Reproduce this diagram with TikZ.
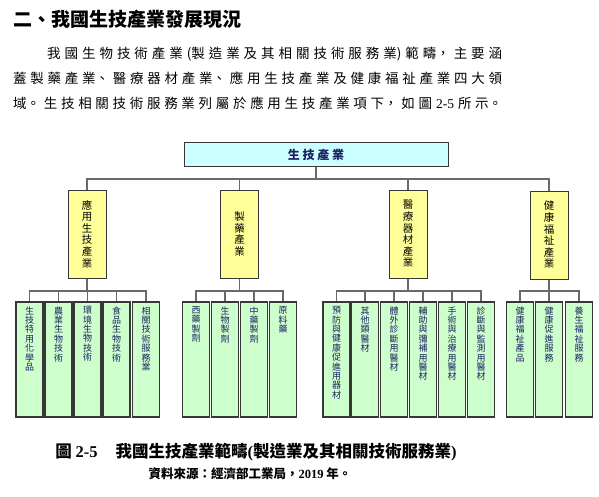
\documentclass[tikz,border=0pt]{standalone}
\usepackage{fontspec}
\setmainfont{Liberation Serif}
\newfontfamily\cjk{Noto Sans CJK TC}
\usetikzlibrary{positioning}

% break lines between CJK characters
\XeTeXlinebreaklocale "zh"
\XeTeXlinebreakskip=0pt plus 6pt

\definecolor{rootcyan}{RGB}{204,255,255}
\definecolor{catyellow}{RGB}{255,255,153}
\definecolor{leafgreen}{RGB}{204,255,204}
\definecolor{boxline}{RGB}{55,55,55}
\definecolor{linkgray}{RGB}{105,105,105}
\definecolor{textnavy}{RGB}{28,32,95}

\tikzset{
    rootbox/.style={draw=boxline, line width=1pt, fill=rootcyan, minimum width=264pt,
        minimum height=24pt, inner sep=0pt, text=textnavy,
        font=\cjk\bfseries\fontsize{12}{14}\selectfont},
    catbox/.style={draw=boxline, line width=1pt, fill=catyellow, minimum width=38pt,
        minimum height=88pt, inner sep=0pt, align=center,
        font=\cjk\fontsize{10.5}{11.6}\selectfont},
    leafbox/.style={draw=boxline, line width=1.3pt, fill=leafgreen, minimum width=27pt,
        minimum height=115pt, inner sep=0pt},
    leaftext/.style={inner sep=0pt, align=center, text=textnavy,
        font=\cjk\fontsize{9}{9.4}\selectfont},
    link/.style={draw=linkgray, line width=1.1pt}
}

\begin{document}
\begin{tikzpicture}[x=1pt, y=-1pt]
    \useasboundingbox (0,0) rectangle (599,497);

    % Heading and text
    \node[anchor=west, inner sep=0pt, font=\cjk\bfseries\fontsize{19}{19}\selectfont] (title) at (13,19) {二、我國生技產業發展現況};
    \node[anchor=north west, inner sep=0pt, text width=489pt, align=justify,
        font=\cjk\fontsize{13.5}{25}\selectfont] (intro) at (13,47)
        {\parfillskip=0pt\hspace*{34pt}我國生物技術產業(製造業及其相關技術服務業)範疇，主要涵\linebreak
        蓋製藥產業、醫療器材產業、應用生技產業及健康福祉產業四大領\linebreak
        域。生技相關技術服務業列屬於應用生技產業項下，如圖 {\rmfamily 2-5} 所示。\par};

    % Root
    \node[rootbox] (root) at (316,155) {生 技 產 業};
    \coordinate (rootbar) at (316,179);
    \draw[link] (root.south) -- (rootbar);

    % Four sectors
    \node[catbox] (app) at (87,234) {應\\用\\生\\技\\產\\業};
    \node[catbox] (pharma) at (239.5,234) {製\\藥\\產\\業};
    \node[catbox] (med) at (408,234) {醫\\療\\器\\材\\產\\業};
    \node[catbox] (health) at (549,235) {健\\康\\福\\祉\\產\\業};
    \foreach \c in {app, pharma, med, health}
        \draw[link] (rootbar) -| (\c.north);

    % Leaves under 應用生技產業
    \coordinate (appbar) at (87,291);
    \draw[link] (app.south) -- (appbar);
    \foreach \x/\t [count=\i] in {29.5/{生\\技\\特\\用\\化\\學\\品}, 58.5/{農\\業\\生\\物\\技\\術},
        87.5/{環\\境\\生\\物\\技\\術}, 116.5/{食\\品\\生\\物\\技\\術}, 146/{相\\關\\技\\術\\服\\務\\業}} {
        \node[leafbox] (a\i) at (\x,359.5) {};
        \node[leaftext, below=5pt of a\i.north] (a\i t) {\t};
        \draw[link] (appbar) -| (a\i.north);
    }

    % Leaves under 製藥產業
    \coordinate (pharmabar) at (239.5,291);
    \draw[link] (pharma.south) -- (pharmabar);
    \foreach \x/\t [count=\i] in {196/{西\\藥\\製\\劑}, 225/{生\\物\\製\\劑},
        254/{中\\藥\\製\\劑}, 283/{原\\料\\藥}} {
        \node[leafbox] (b\i) at (\x,359.5) {};
        \node[leaftext, below=5pt of b\i.north] (b\i t) {\t};
        \draw[link] (pharmabar) -| (b\i.north);
    }

    % Leaves under 醫療器材產業
    \coordinate (medbar) at (408,291);
    \draw[link] (med.south) -- (medbar);
    \foreach \x/\t [count=\i] in {336.5/{預\\防\\與\\健\\康\\促\\進\\用\\器\\材}, 365/{其\\他\\類\\醫\\材},
        394/{體\\外\\診\\斷\\用\\醫\\材}, 423/{輔\\助\\與\\彌\\補\\用\\醫\\材},
        452/{手\\術\\與\\治\\療\\用\\醫\\材}, 481/{診\\斷\\與\\監\\測\\用\\醫\\材}} {
        \node[leafbox] (c\i) at (\x,359.5) {};
        \node[leaftext, below=5pt of c\i.north] (c\i t) {\t};
        \draw[link] (medbar) -| (c\i.north);
    }

    % Leaves under 健康福祉產業
    \coordinate (healthbar) at (549,291);
    \draw[link] (health.south) -- (healthbar);
    \foreach \x/\t [count=\i] in {520/{健\\康\\福\\祉\\產\\品}, 549/{健\\康\\促\\進\\服\\務},
        579/{養\\生\\福\\祉\\服\\務}} {
        \node[leafbox] (d\i) at (\x,359.5) {};
        \node[leaftext, below=5pt of d\i.north] (d\i t) {\t};
        \draw[link] (healthbar) -| (d\i.north);
    }

    % Caption and source
    \node[font=\cjk\bfseries\fontsize{16.5}{17}\selectfont] (caption) at (256,452)
        {圖 {\rmfamily 2-5}\hspace{1.1em}我國生技產業範疇{\rmfamily (}製造業及其相關技術服務業{\rmfamily )}};
    \node[font=\cjk\bfseries\fontsize{12.5}{13}\selectfont] (source) at (250,474)
        {資料來源：經濟部工業局，{\rmfamily 2019} 年。};
\end{tikzpicture}
\end{document}
